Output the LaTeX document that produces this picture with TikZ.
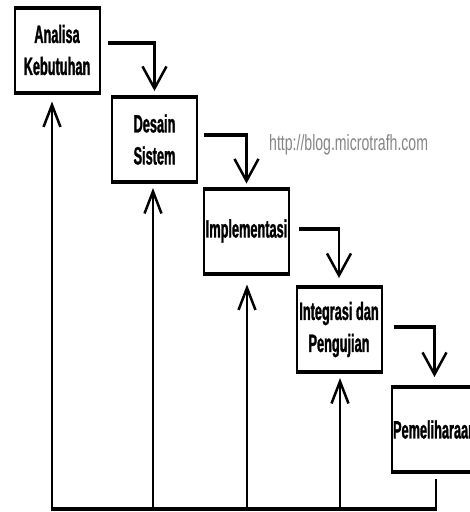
\documentclass[tikz,border=0pt]{standalone}
\usepackage{fontspec}
\usetikzlibrary{arrows.meta}
\newfontfamily\boxfont[FakeStretch=0.51,FakeBold=1.2]{Liberation Sans}
\newfontfamily\wmfont[FakeStretch=0.64]{Liberation Sans}
\definecolor{wmgray}{HTML}{858585}
\begin{document}
\begin{tikzpicture}[x=1pt,y=-1pt,
  stage/.style={draw, line width=2pt, minimum width=85pt, minimum height=85pt,
    inner sep=0pt, outer sep=0pt, align=center,
    font=\boxfont\bfseries\fontsize{25}{32}\selectfont},
  boxedge/.style={line width=4pt, shorten <=-1pt, shorten >=-1pt},
  hseg/.style={line width=4pt, shorten >=-1.25pt},
  down/.style={line width=2.5pt, -{Straight Barb[length=22pt,width=24pt]}},
  up/.style={line width=2.5pt, -{Straight Barb[length=22pt,width=17pt]}},
  plainline/.style={line width=2.5pt},
  base/.style={line width=4pt}]
\clip (0,0) rectangle (470,512);

\node[stage] (b1) at (57,50)    {Analisa\\Kebutuhan};
\node[stage] (b2) at (154.5,139.5) {Desain\\Sistem};
\node[stage] (b3) at (246.5,231) {Implementasi};
\node[stage] (b4) at (339,329.5) {Integrasi dan\\Pengujian};
\node[stage] (b5) at (434.5,429.5) {Pemeliharaan};

\foreach \n in {b1,b2,b3,b4,b5} {
  \draw[boxedge] (\n.north west) -- (\n.north east);
  \draw[boxedge] (\n.south west) -- (\n.south east);
}

\node[anchor=west, text=wmgray, inner sep=0pt,
  font=\wmfont\fontsize{22}{26}\selectfont] (wm) at (269,145) {http://blog.microtrafh.com};

% forward connectors
\coordinate (s1) at ([xshift=8pt,yshift=7pt]b1.east);
\coordinate (c1) at (b2.north |- s1);
\draw[hseg] (s1) -- (c1);
\draw[down] (c1) -- ([yshift=6pt]b2.north);

\coordinate (s2) at ([xshift=7pt,yshift=4.5pt]b2.east);
\coordinate (c2) at (b3.north |- s2);
\draw[hseg] (s2) -- (c2);
\draw[down] (c2) -- ([yshift=5pt]b3.north);

\coordinate (s3) at ([xshift=10pt,yshift=2pt]b3.east);
\coordinate (c3) at (b4.north |- s3);
\draw[hseg] (s3) -- (c3);
\draw[down] (c3) -- ([yshift=9pt]b4.north);

\coordinate (s4) at ([xshift=12pt,yshift=2.5pt]b4.east);
\coordinate (c4) at (b5.north |- s4);
\draw[hseg] (s4) -- (c4);
\draw[down] (c4) -- ([yshift=10pt]b5.north);

% feedback lines
\coordinate (g1) at (52,509);
\coordinate (g2) at (153,509);
\coordinate (g3) at (247,509);
\coordinate (g4) at (340,509);
\coordinate (g5) at (436,509);
\draw[base] ([xshift=-1.25pt]g1) -- ([xshift=1.25pt]g5);
\draw[up] (g1) -- ([yshift=-9pt]b1.south -| g1);
\draw[up] (g2) -- ([yshift=-6pt]b2.south -| g2);
\draw[up] (g3) -- ([yshift=-11pt]b3.south -| g3);
\draw[up] (g4) -- ([yshift=-6pt]b4.south -| g4);
\draw[plainline] ([yshift=-7pt]b5.south -| g5) -- (g5);
\end{tikzpicture}
\end{document}
